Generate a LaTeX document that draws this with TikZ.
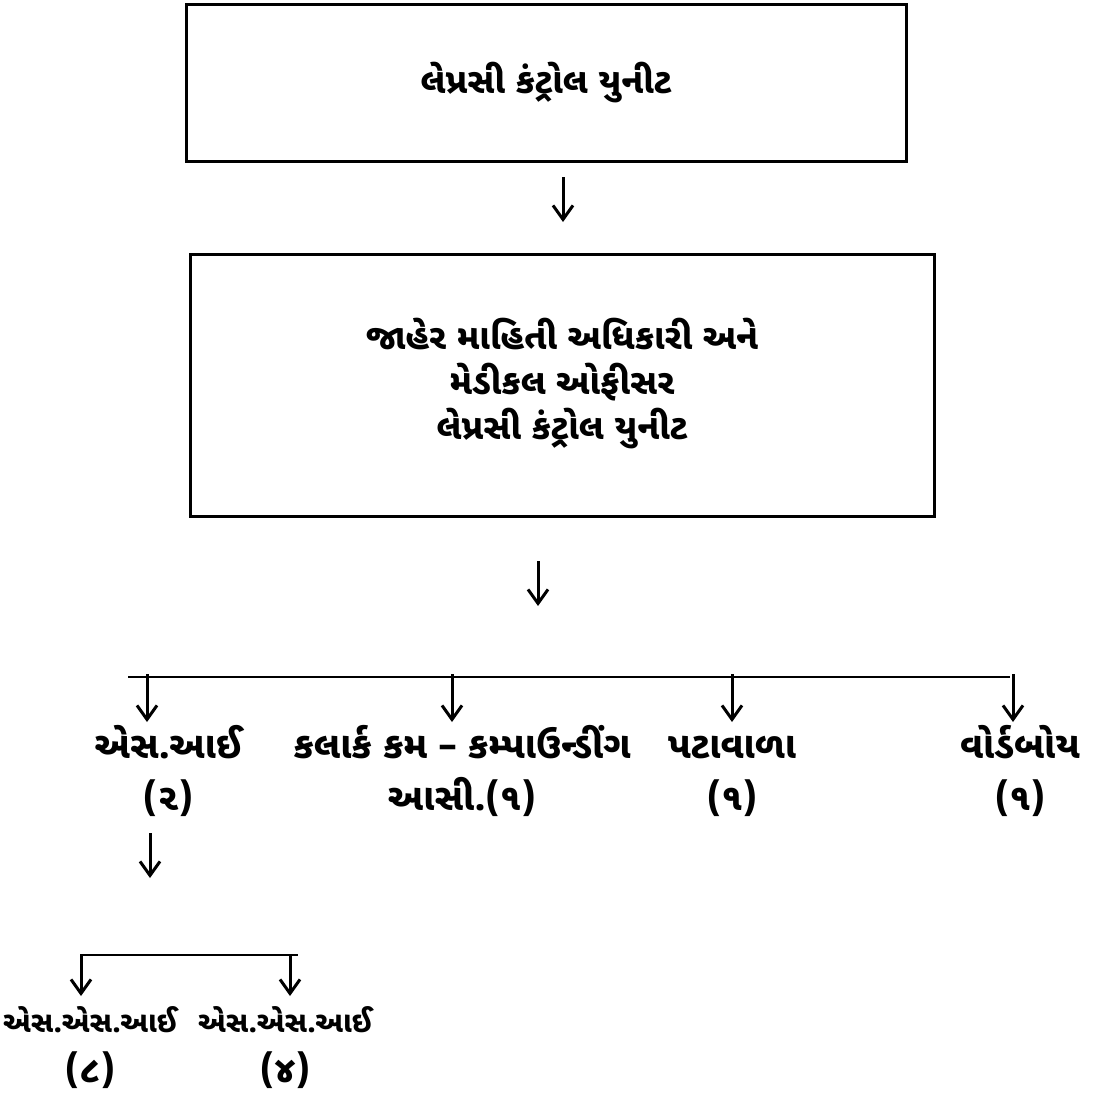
\documentclass[tikz,border=0pt]{standalone}
\usepackage{fontspec}
\newfontfamily\guj[Script=Gujarati]{Noto Sans Gujarati UI}
\usetikzlibrary{arrows.meta}
\newcommand{\bignum}[1]{{\fontsize{37}{50}\selectfont #1}}
\begin{document}
\begin{tikzpicture}[x=1pt,y=-1pt,
  box/.style={draw,line width=3pt,inner sep=0pt,align=center,
    font=\guj\bfseries\fontsize{35}{45}\selectfont},
  lbl/.style={align=center,inner sep=0pt,
    font=\guj\bfseries\fontsize{37}{52}\selectfont},
  slbl/.style={align=center,inner sep=0pt,
    font=\guj\bfseries\fontsize{29}{50}\selectfont},
  arr/.style={line width=3pt,-{Straight Barb[length=14pt,width=20pt,line width=3pt]}},
  bar/.style={line width=2.2pt}]
\path[use as bounding box] (0,0) rectangle (1096,1095);
\node[box,minimum width=720pt,minimum height=157pt] (b1) at (546,82.5) {લેપ્રસી કંટ્રોલ યુનીટ};
\node[box,minimum width=744pt,minimum height=262pt] (b2) at (562,385)
  {\strut જાહેર માહિતી અધિકારી અને\\\strut મેડીકલ ઓફીસર\\\strut લેપ્રસી કંટ્રોલ યુનીટ};
\coordinate (a1s) at (563,177); \coordinate (a1e) at (563,222);
\draw[arr] (a1s) -- (a1e);
\coordinate (a2s) at (538,561); \coordinate (a2e) at (538,606);
\draw[arr] (a2s) -- (a2e);
\coordinate (barL) at (128,677); \coordinate (barR) at (1010,677);
\draw[bar] (barL) -- (barR);
\node[lbl] (si) at (168,774) {\strut એસ.આઈ\\\strut(૨)};
\node[lbl] (clerk) at (462,774) {\strut કલાર્ક કમ – કમ્પાઉન્ડીંગ\\\strut આસી.(૧)};
\node[lbl] (pat) at (732,774) {\strut પટાવાળા\\\strut(૧)};
\node[lbl] (ward) at (1020,774) {\strut વોર્ડબોય\\\strut(૧)};
\foreach \x/\n in {147/p1,452/p2,732/p3,1013/p4}{
  \coordinate (\n s) at (\x,674); \coordinate (\n e) at (\x,722);
  \draw[arr] (\n s) -- (\n e);
}
\coordinate (a3s) at (150,833); \coordinate (a3e) at (150,878);
\draw[arr] (a3s) -- (a3e);
\coordinate (bar2L) at (80,955); \coordinate (bar2R) at (298,955);
\draw[bar] (bar2L) -- (bar2R);
\foreach \x/\n in {81/q1,290/q2}{
  \coordinate (\n s) at (\x,955); \coordinate (\n e) at (\x,996);
  \draw[arr] (\n s) -- (\n e);
}
\node[slbl] (ss1) at (90,1047) {\strut એસ.એસ.આઈ\\\strut\bignum{(૮)}};
\node[slbl] (ss2) at (285,1047) {\strut એસ.એસ.આઈ\\\strut\bignum{(૪)}};
\end{tikzpicture}
\end{document}
